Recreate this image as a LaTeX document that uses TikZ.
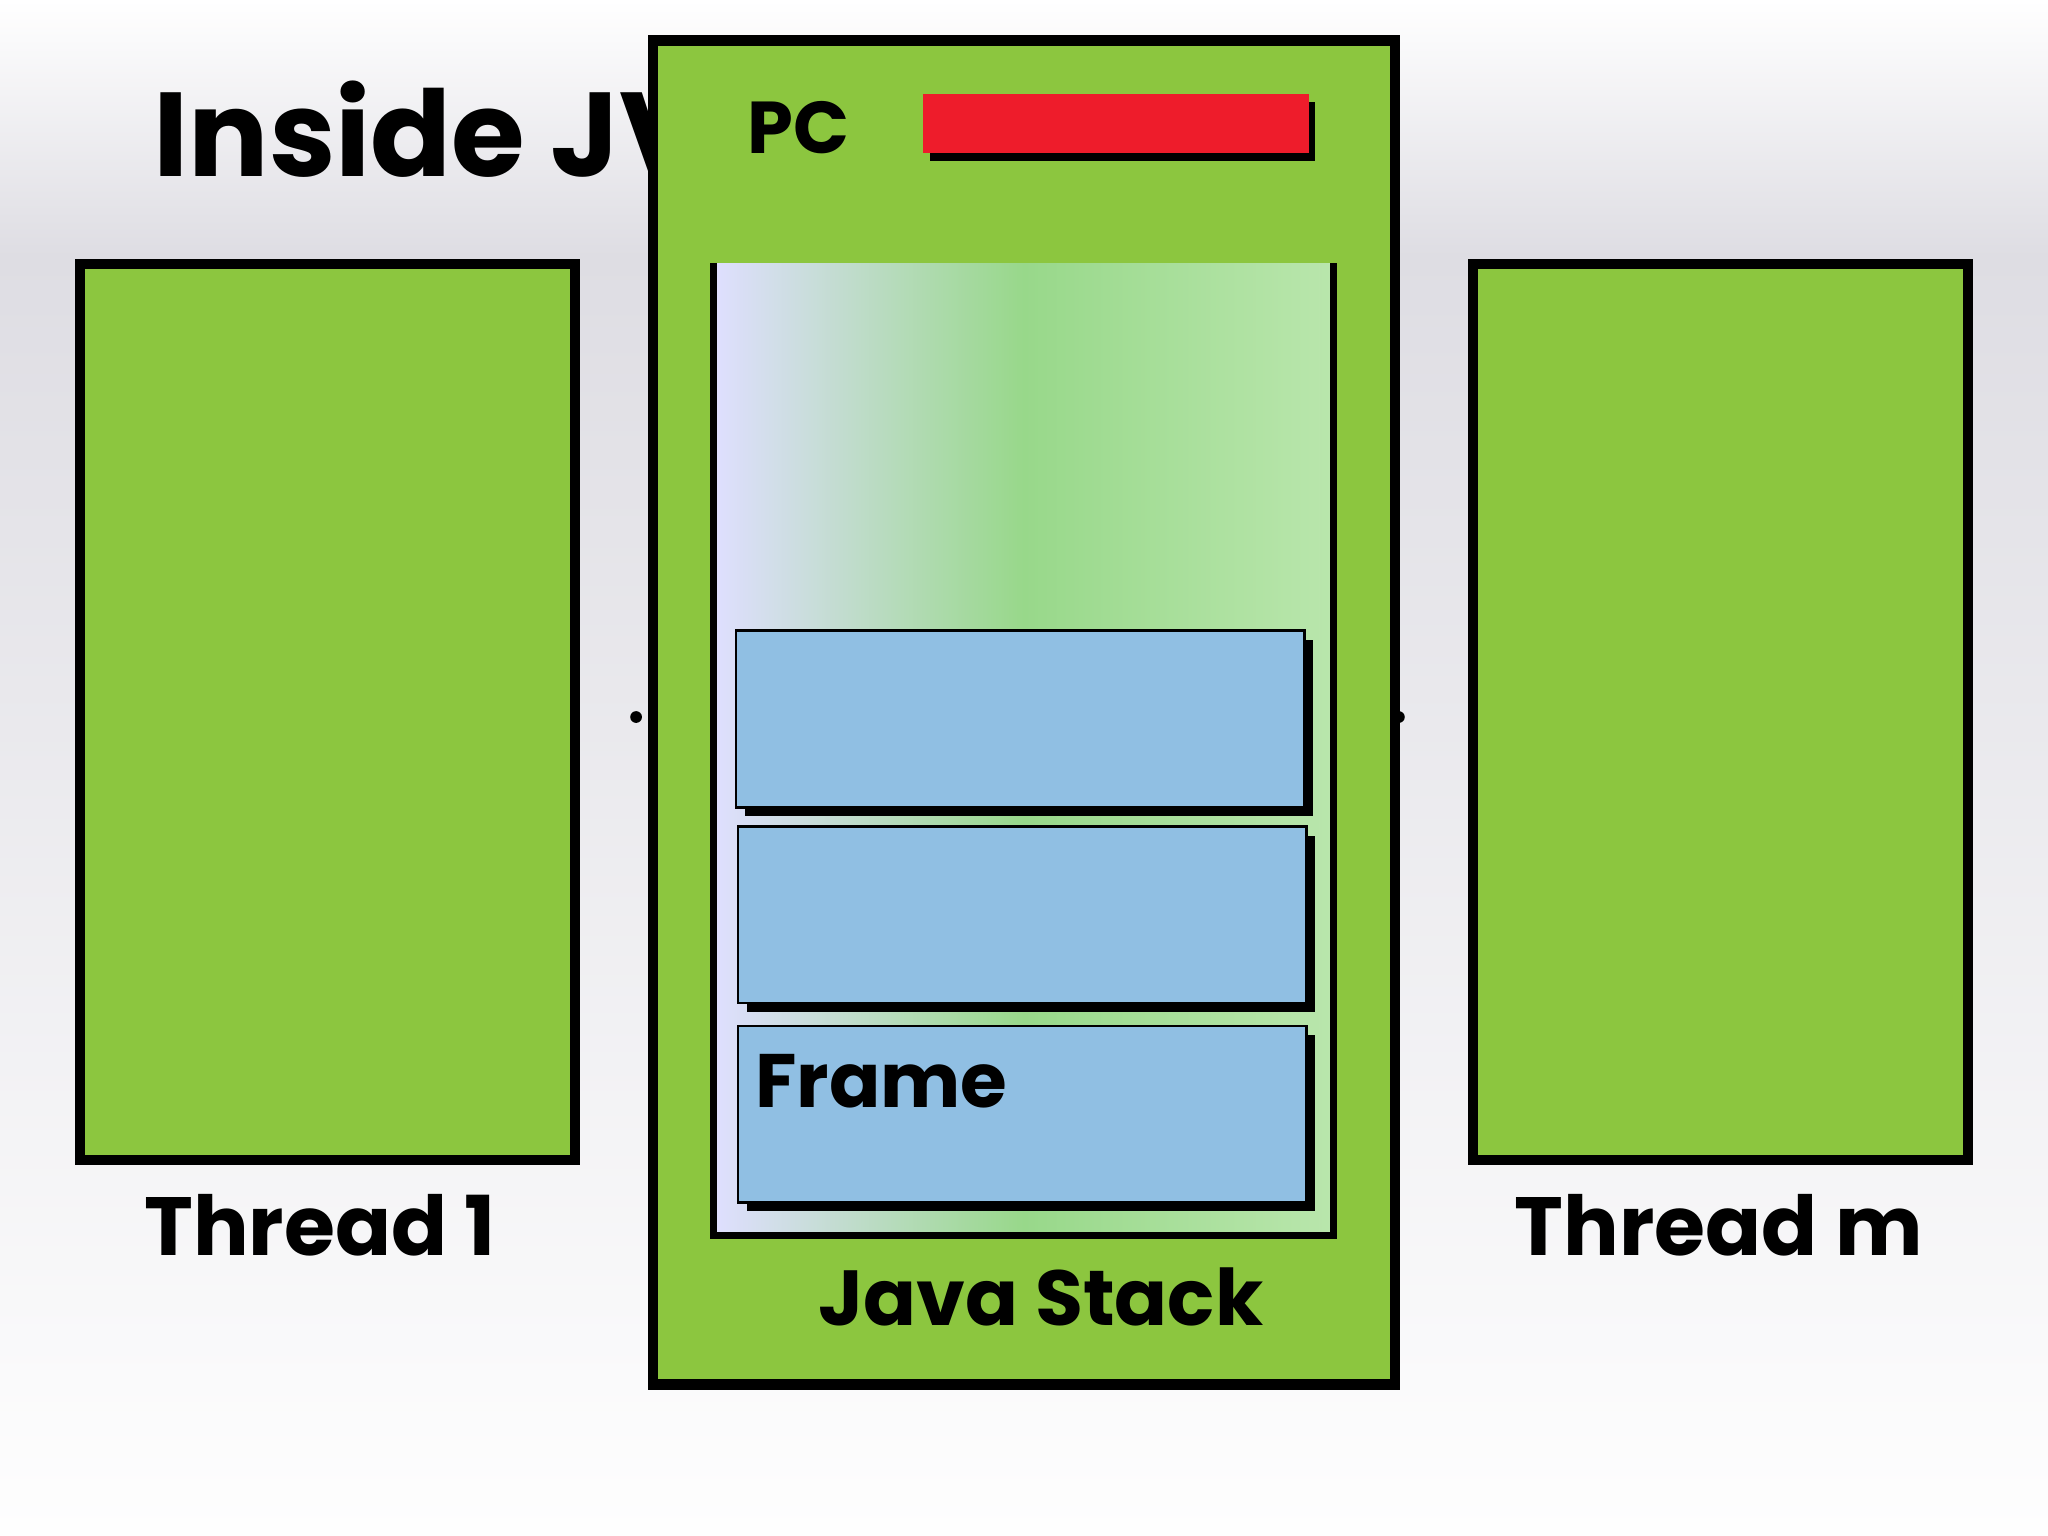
\documentclass[tikz,border=0pt]{standalone}
\usepackage{fontspec}
\setmainfont{Poppins}
\usepackage{tikz}
\usetikzlibrary{shadows,positioning}
\definecolor{threadgreen}{HTML}{8CC63F}
\definecolor{frameblue}{HTML}{90BFE3}
\definecolor{pcred}{HTML}{EE1C2B}
\definecolor{bggray}{HTML}{DEDDE3}
\definecolor{stackleft}{HTML}{DFDFFF}
\definecolor{stackmid}{HTML}{98D88A}
\definecolor{stackright}{HTML}{B9E6AC}
\begin{document}
\begin{tikzpicture}
    % Define styles
    \tikzset{
        thread/.style={rectangle, draw=black, line width=2.2pt, fill=threadgreen, inner sep=0pt},
        frame/.style={rectangle, draw=black, line width=0.6pt, fill=frameblue, minimum width=4.35cm, minimum height=1.35cm, inner sep=0pt,
            general shadow={fill=black, shadow xshift=0.07cm, shadow yshift=-0.07cm}},
        label/.style={font=\fontsize{18}{20}\selectfont\bfseries},
    }
    % Background
    \useasboundingbox (0,0) rectangle (15.68,11.76);
    \shade[top color=white, bottom color=bggray] (0,9.8) rectangle (15.68,11.76);
    \shade[top color=bggray, bottom color=white!97!bggray] (0,0) rectangle (15.68,9.8);

    % Title and side threads
    \node[anchor=base west, font=\fontsize{26}{28}\selectfont\bfseries] (title) at (1.05,10.41) {Inside JVM};
    \node[thread, minimum width=3.79cm, minimum height=6.86cm] (thread1) at (2.505,6.31) {};
    \node[thread, minimum width=3.79cm, minimum height=6.86cm] (threadm) at (13.175,6.31) {};
    \node[label] (thread1label) at (2.45,2.38) {Thread 1};
    \node[label] (threadmlabel) at (13.16,2.38) {Thread m};
    \fill (4.87,6.27) circle (0.045);
    \fill (10.71,6.27) circle (0.045);

    % Middle thread
    \node[thread, minimum width=5.68cm, minimum height=10.29cm] (thread2) at (7.84,6.305) {};
    \node[anchor=west, font=\fontsize{16}{18}\selectfont\bfseries] (pc) at (5.60,10.78) {PC};
    \node[rectangle, fill=pcred, minimum width=2.95cm, minimum height=0.45cm, inner sep=0pt,
        general shadow={fill=black, shadow xshift=0.05cm, shadow yshift=-0.06cm}] (pcreg) at (8.545,10.815) {};

    % Java stack
    \node[rectangle, minimum width=4.73cm, minimum height=7.43cm, inner sep=0pt,
        shading=axis, shading angle=90, left color=stackleft, right color=stackright, middle color=stackmid] (stack) at (7.835,6.025) {};
    \draw[line width=1.5pt] (stack.north west) -- (stack.south west) -- (stack.south east) -- (stack.north east);
    \node[frame] (frame1) at (7.81,6.255) {};
    \node[frame] (frame2) at (7.825,4.755) {};
    \node[frame] (frame3) at (7.825,3.23) {};
    \node[anchor=west, font=\fontsize{16.5}{18}\selectfont\bfseries] (framelabel) at (5.66,3.48) {Frame};
    \node[font=\fontsize{17}{19}\selectfont\bfseries] (stacklabel) at (7.97,1.83) {Java Stack};
\end{tikzpicture}
\end{document}
